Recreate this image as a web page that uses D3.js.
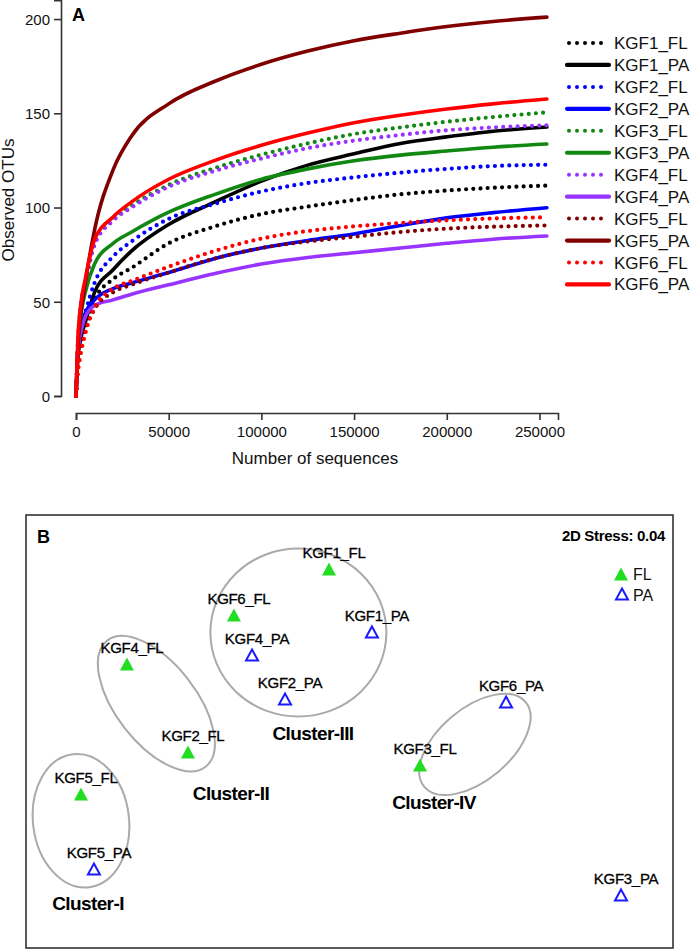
<!DOCTYPE html>
<html><head><meta charset="utf-8">
<script src="https://cdn.jsdelivr.net/npm/d3@7"></script>
<style>
body{margin:0;background:#fff;}
svg{display:block;font-family:Arial,"Liberation Sans",sans-serif;}
</style></head>
<body><svg id="c" width="695" height="950"></svg>
<script>
// ---------- Panel A data ----------
const seqs = [0, 1000, 2500, 5000, 10000, 20000, 30000, 50000, 75000, 100000, 125000, 150000, 175000, 200000, 225000, 254000];
const seriesNames = ["KGF1_FL","KGF1_PA","KGF2_FL","KGF2_PA","KGF3_FL","KGF3_PA","KGF4_FL","KGF4_PA","KGF5_FL","KGF5_PA","KGF6_FL","KGF6_PA"];
const kgf1FL = [0, 18, 28, 36, 51, 62, 68, 81, 90, 96.5, 100.5, 104, 107, 109, 110.5, 111.6];
const kgf1PA = [0, 20, 30, 39, 55, 67, 77, 91, 103, 114, 122.5, 128.5, 134, 137.5, 140.5, 142.7];
const kgf2FL = [0, 22, 34, 44, 60, 74, 82, 94, 102, 108.5, 113, 116, 118.5, 120.5, 122, 122.7];
const kgf2PA = [0, 25, 36, 44, 51, 57, 60, 65.5, 73, 78.5, 82.5, 86, 90.5, 94.5, 97.3, 99.9];
const kgf3FL = [0, 27, 45, 58, 81, 94, 101, 112, 121, 128, 134, 139, 142.5, 145.5, 148, 150.5];
const kgf3PA = [0, 25, 42, 55, 70, 81, 87, 97.5, 107, 115, 120.5, 124.8, 127.8, 130, 132, 133.7];
const kgf4FL = [0, 28, 48, 60, 80, 93, 100, 111, 119.5, 126, 131.5, 135.5, 138.5, 141, 142.5, 143.6];
const kgf4PA = [0, 22, 33, 42, 48, 51, 54, 59, 65, 70, 73.5, 76, 78.5, 81, 83.2, 84.9];
const kgf5FL = [0, 15, 25, 35, 46, 55, 59, 65.5, 73, 78.5, 82, 84.5, 87, 88.8, 89.8, 90.5];
const kgf5PA = [0, 25, 42, 60, 88, 120, 138, 155, 167, 176, 183, 188.5, 192.5, 196, 198.7, 201];
const kgf6FL = [0, 12, 22, 33, 47, 57, 61, 68.6, 77, 83.5, 87.5, 90, 91.8, 93.2, 94.2, 94.8];
const kgf6PA = [0, 30, 48, 62, 83, 95, 103, 115, 125, 133, 139.5, 145, 149, 152.3, 155, 157.6];
const seriesValues = [kgf1FL,kgf1PA,kgf2FL,kgf2PA,kgf3FL,kgf3PA,kgf4FL,kgf4PA,kgf5FL,kgf5PA,kgf6FL,kgf6PA];
const seriesColors = ["#000000","#000000","#0000ff","#0000ff","#118811","#118811","#9933ff","#9933ff","#800000","#800000","#ff0000","#ff0000"];
const xTicks = [0, 50000, 100000, 150000, 200000, 250000];
const yTicks = [0, 50, 100, 150, 200];

// ---------- Panel B data ----------
const samples = ["KGF1_FL","KGF6_FL","KGF4_PA","KGF2_PA","KGF4_FL","KGF2_FL","KGF5_FL","KGF5_PA","KGF1_PA","KGF6_PA","KGF3_FL","KGF3_PA"];
const nmds1 = [-0.095, -0.536, -0.452, -0.299, -1.032, -0.749, -1.245, -1.185, 0.104, 0.726, 0.327, 1.259];
const nmds2 = [0.751, 0.538, 0.353, 0.150, 0.312, -0.095, -0.289, -0.635, 0.460, 0.136, -0.155, -0.755];
const fractions = ["FL","FL","PA","PA","FL","FL","FL","PA","PA","PA","FL","PA"];
const clusterNames = ["Cluster-I","Cluster-II","Cluster-III","Cluster-IV"];
const clusterMembers = [["KGF5_FL","KGF5_PA"],["KGF4_FL","KGF2_FL"],["KGF1_FL","KGF6_FL","KGF4_PA","KGF2_PA","KGF1_PA"],["KGF3_FL","KGF6_PA"]];
const stressText = "2D Stress: 0.04";

const svg = d3.select("#c");

// ===== Panel A =====
const x = d3.scaleLinear().domain([0, 260000]).range([76, 558]);
const y = d3.scaleLinear().domain([0, 210]).range([396, 0.2]);
const axisColor = "#333";

const gx = svg.append("g").attr("transform","translate(0,413)")
  .call(d3.axisBottom(x).tickValues(xTicks).tickFormat(d3.format("d")).tickSizeOuter(0).tickSize(7).tickPadding(6));
const gy = svg.append("g").attr("transform","translate(61,0)")
  .call(d3.axisLeft(y).tickValues(yTicks).tickSizeOuter(0).tickSize(7).tickPadding(4));
[gx,gy].forEach(g=>{
  g.select(".domain").attr("stroke",axisColor).attr("stroke-width",1.6);
  g.selectAll(".tick line").attr("stroke",axisColor).attr("stroke-width",1.6);
  g.selectAll(".tick text").attr("font-size",15).attr("fill","#111").attr("font-family","Arial, 'Liberation Sans', sans-serif");
});
gy.selectAll(".tick text").attr("dy","0.35em");

svg.append("text").attr("x",315).attr("y",464).attr("text-anchor","middle")
  .attr("font-size",17).attr("fill","#111").text("Number of sequences");
svg.append("text").attr("transform","translate(14,200) rotate(-90)").attr("text-anchor","middle")
  .attr("font-size",17).attr("fill","#111").text("Observed OTUs");
svg.append("text").attr("x",72).attr("y",21).attr("font-size",18).attr("font-weight","bold").text("A");

const line = d3.line().x((d,i)=>x(seqs[i])).y(d=>y(d)).curve(d3.curveMonotoneX);
const isDotted = n => n.endsWith("_FL");

seriesNames.forEach((n,i)=>{
  svg.append("path").datum(seriesValues[i]).attr("d",line)
    .attr("fill","none").attr("stroke",seriesColors[i])
    .attr("stroke-width", isDotted(n)?4.2:3.6)
    .attr("stroke-linecap","round")
    .attr("stroke-dasharray", isDotted(n)?"0,7.2":null);
});

// legend A
const leg = svg.append("g");
seriesNames.forEach((n,i)=>{
  const ly = 43 + i*21.95;
  leg.append("line").attr("x1", isDotted(n)?569:567).attr("x2", 609).attr("y1",ly).attr("y2",ly)
    .attr("stroke",seriesColors[i]).attr("stroke-width", isDotted(n)?4:4.2)
    .attr("stroke-linecap","round").attr("stroke-dasharray", isDotted(n)?"0,8":null);
  leg.append("text").attr("x",614).attr("y",ly+6).attr("font-size",17).attr("fill","#111").text(n);
});

// ===== Panel B =====
const bx0 = 26, bx1 = 673, by0 = 515, by1 = 948;
svg.append("rect").attr("x",bx0).attr("y",by0).attr("width",bx1-bx0).attr("height",by1-by0)
  .attr("fill","none").attr("stroke","#333").attr("stroke-width",1.6);
const sx = d3.scaleLinear().domain([-1.5,1.5]).range([bx0,bx1]);
const sy = d3.scaleLinear().domain([-1,1]).range([by1,by0]);

svg.append("text").attr("x",37).attr("y",543).attr("font-size",18).attr("font-weight","bold").text("B");
svg.append("text").attr("x",665).attr("y",541).attr("text-anchor","end").attr("font-size",15)
  .attr("font-weight","bold").attr("letter-spacing","-0.3").text(stressText);

// cluster ellipses around member positions
const idx = n => samples.indexOf(n);
const ellipseShape = [ // [rx, ry, angle] in px
  [48, 67, -7], [80, 40, 52], [88, 84, 0], [66, 36, -40]
];
const ellipseOffset = [[ -0.03, 0.05 ],[ -0.005, 0.02 ],[ 0, 0 ],[ 0.055, -0.05 ]];
const labelPos = [[88,910],[231,800],[313,740],[434,809]];
clusterMembers.forEach((mem,c)=>{
  const xs = mem.map(m=>nmds1[idx(m)]), ys = mem.map(m=>nmds2[idx(m)]);
  let cx = (d3.min(xs)+d3.max(xs))/2, cy = (d3.min(ys)+d3.max(ys))/2;
  cx += ellipseOffset[c][0]; cy += ellipseOffset[c][1];
  if (c===2) { cx = -0.237; cy = 0.457; }
  const [rx,ry,ang] = ellipseShape[c];
  svg.append("ellipse").attr("cx",0).attr("cy",0).attr("rx",rx).attr("ry",ry)
    .attr("transform",`translate(${sx(cx)},${sy(cy)}) rotate(${ang})`)
    .attr("fill","none").attr("stroke","#aaaaaa").attr("stroke-width",2);
  svg.append("text").attr("x",labelPos[c][0]).attr("y",labelPos[c][1]).attr("text-anchor","middle")
    .attr("font-size",19).attr("font-weight","bold").attr("letter-spacing","-0.6").text(clusterNames[c]);
});

function triPath(w,h){ return `M0,${-h/2}L${w/2},${h/2}L${-w/2},${h/2}Z`; }
const green = "#22dd22", blue = "#1a1aff";
samples.forEach((s,i)=>{
  const px = sx(nmds1[i]), py = sy(nmds2[i]);
  if (fractions[i]==="FL") {
    svg.append("path").attr("d",triPath(14,13)).attr("transform",`translate(${px},${py})`).attr("fill",green);
  } else {
    svg.append("path").attr("d",triPath(12,11)).attr("transform",`translate(${px},${py})`)
      .attr("fill","none").attr("stroke",blue).attr("stroke-width",2);
  }
  svg.append("text").attr("x",px+5).attr("y",py-11).attr("text-anchor","middle")
    .attr("font-size",15).attr("fill","#000").attr("stroke","#000").attr("stroke-width",0.3)
    .attr("letter-spacing","-0.3").text(s);
});

// legend B
svg.append("path").attr("d",triPath(14,13)).attr("transform","translate(621,574)").attr("fill",green);
svg.append("text").attr("x",633).attr("y",580).attr("font-size",16).attr("fill","#111").text("FL");
svg.append("path").attr("d",triPath(12,11)).attr("transform","translate(622,594)")
  .attr("fill","none").attr("stroke",blue).attr("stroke-width",2);
svg.append("text").attr("x",633).attr("y",601).attr("font-size",16).attr("fill","#111").text("PA");
</script></body></html>
